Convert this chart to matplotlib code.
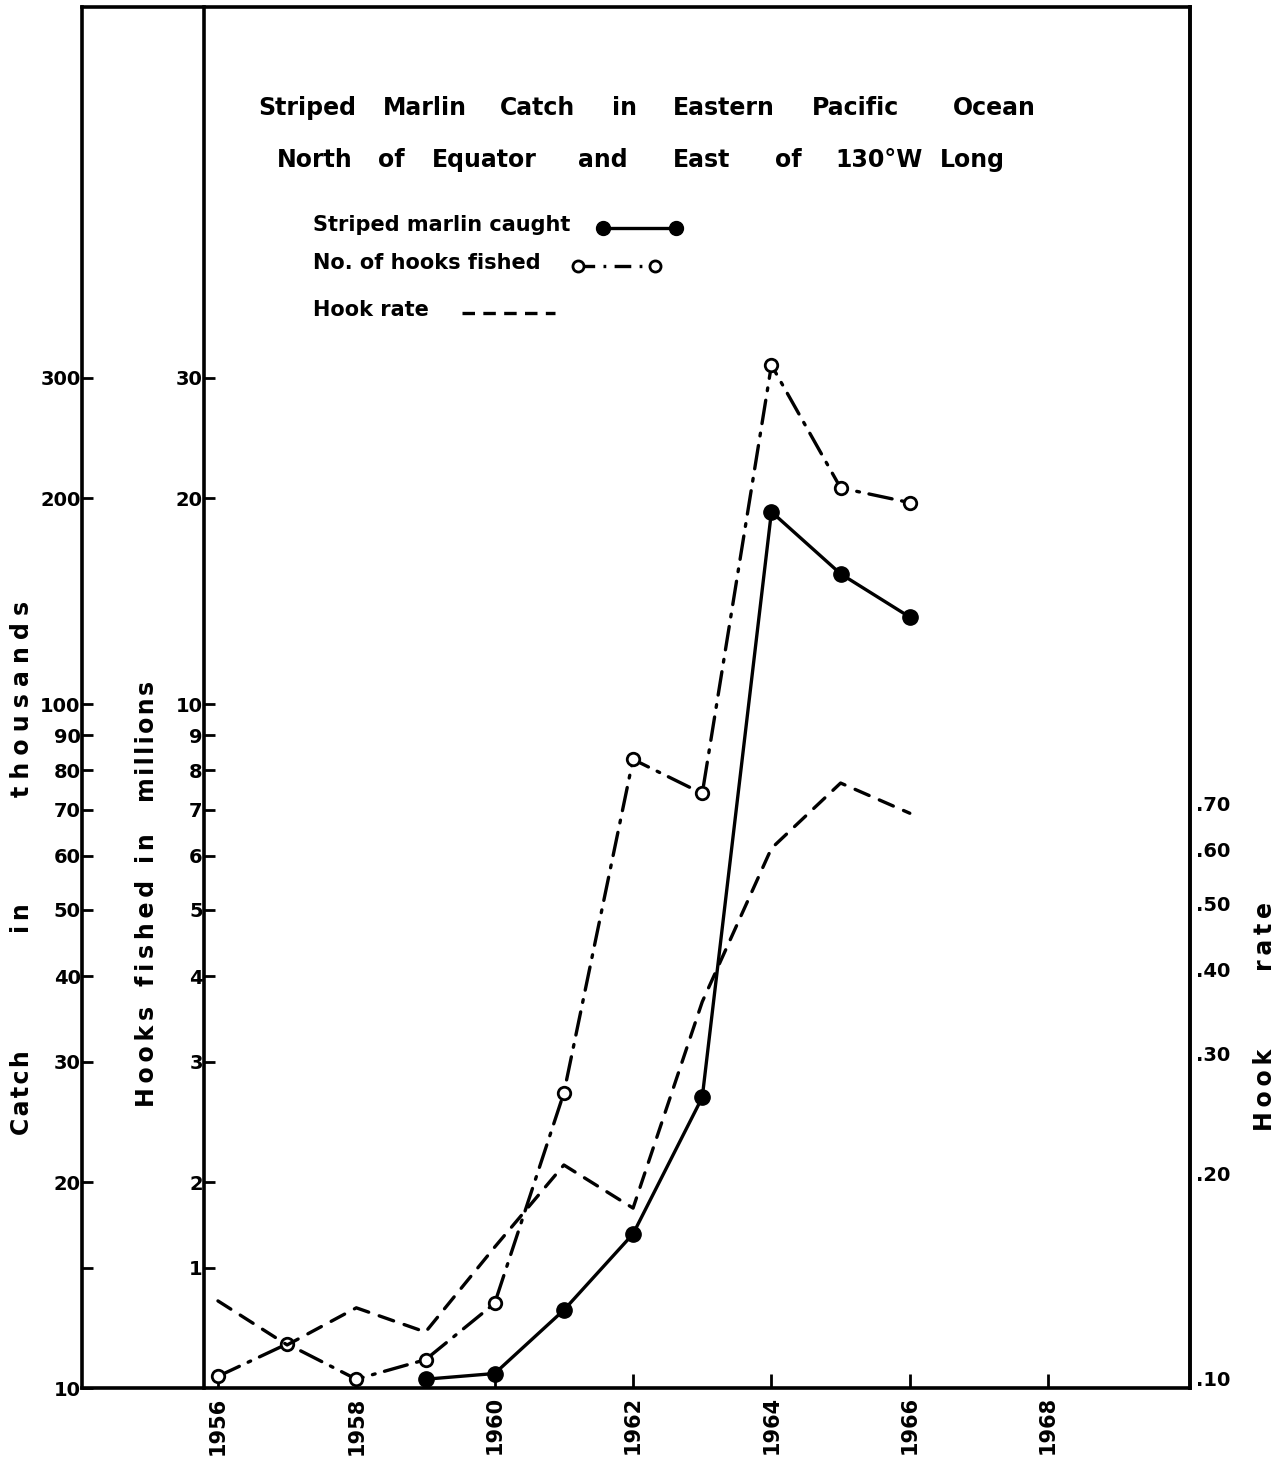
import matplotlib.pyplot as plt
from matplotlib.lines import Line2D

plt.rcParams['font.family'] = ['DejaVu Sans']
plt.rcParams['font.weight'] = 'bold'
plt.rcParams['lines.scale_dashes'] = False

# data
years = [1956, 1957, 1958, 1959, 1960, 1961, 1962, 1963, 1964, 1965, 1966]
hooks = [1.04, 1.16, 1.03, 1.10, 1.33, 2.70, 8.3, 7.4, 31.3, 20.7, 19.7]      # millions
hook_rate = [0.130, 0.112, 0.127, 0.117, 0.156, 0.206, 0.178, 0.358, 0.602, 0.751, 0.678]
catch_years = [1959, 1960, 1961, 1962, 1963, 1964, 1965, 1966]
catch = [10.3, 10.5, 13.0, 16.8, 26.6, 191, 155, 134]                         # thousands

catch_ticks = [10, 15, 20, 30, 40, 50, 60, 70, 80, 90, 100, 200, 300]
catch_labels = ['10', '', '20', '30', '40', '50', '60', '70', '80', '90', '100', '200', '300']
hook_ticks = [1.5, 2, 3, 4, 5, 6, 7, 8, 9, 10, 20, 30]
hook_labels = ['1', '2', '3', '4', '5', '6', '7', '8', '9', '10', '20', '30']
rate_ticks = [0.1, 0.2, 0.3, 0.4, 0.5, 0.6, 0.7]
rate_labels = ['.10', '.20', '.30', '.40', '.50', '.60', '.70']
year_ticks = [1956, 1958, 1960, 1962, 1964, 1966, 1968]

W, H = 1283, 1459
fig = plt.figure(figsize=(W / 100, H / 100), dpi=100)


def px(x, y):
    return x / W, 1 - y / H


def spaced(word, gap='\u2009'):
    return gap.join(word)


ax = fig.add_axes([82 / W, (H - 1388) / H, (1190 - 82) / W, (1388 - 7) / H])
ax.set_xlim(1954.035, 1970.05)
ax.set_yscale('log')
ax.set_ylim(10, 1045)
for s in ax.spines.values():
    s.set_linewidth(2.6)

# hooks axis (inner left line), shares x
ax2 = ax.twinx()
ax2.set_yscale('log')
ax2.set_ylim(1, 104.5)
ax2.yaxis.set_ticks_position('left')
ax2.spines['left'].set_position(('data', 1955.8))
ax2.spines['left'].set_linewidth(2.6)
for k in ['right', 'top', 'bottom']:
    ax2.spines[k].set_visible(False)

# hook rate axis (right)
ax3 = ax.twinx()
ax3.set_yscale('log')
ax3.set_ylim(0.0968, 10.4)
for k in ['left', 'top', 'bottom']:
    ax3.spines[k].set_visible(False)
ax3.spines['right'].set_linewidth(2.6)

ax.set_yticks(catch_ticks, catch_labels)
ax2.set_yticks(hook_ticks, hook_labels)
ax3.set_yticks(rate_ticks, rate_labels)
for a in (ax, ax2, ax3):
    a.yaxis.set_minor_locator(plt.NullLocator())
ax.tick_params(axis='y', direction='in', length=8, width=2, labelsize=14, pad=1)
ax2.tick_params(axis='y', direction='in', length=8, width=2, labelsize=14, pad=1)
ax3.tick_params(axis='y', length=0, labelsize=14, pad=4)

ax.set_xticks(year_ticks, [str(y) for y in year_ticks])
ax.tick_params(axis='x', direction='in', length=10, width=2, labelsize=15,
               labelrotation=90, pad=6)

# series
ax.plot(catch_years, catch, color='black', lw=2.4, marker='o', ms=11, zorder=5)
ax2.plot(years, hooks, color='black', lw=2.4, marker='o', ms=9, mfc='white',
         mew=2, dashes=(17, 7, 2, 7), dash_capstyle='round', zorder=5)
ax3.plot(years, hook_rate, color='black', lw=2.4, dashes=(11, 8),
         dash_capstyle='round', zorder=5)

# title
title1 = [('Striped', 258), ('Marlin', 383), ('Catch', 500), ('in', 612),
          ('Eastern', 673), ('Pacific', 812), ('Ocean', 953)]
title2 = [('North', 277), ('of', 378), ('Equator', 432), ('and', 578),
          ('East', 673), ('of', 775), ('130°W', 835), ('Long', 940)]
for row, yy in ((title1, 108), (title2, 160)):
    for w, xx in row:
        fig.text(*px(xx, yy), w, fontsize=17, ha='left', va='center')

# legend (text followed by a line sample)
leg = [('Striped marlin caught', 225, 603, 676,
        dict(color='black', lw=2.4, marker='o', ms=10)),
       ('No. of hooks fished', 263, 578, 655,
        dict(color='black', lw=2.4, marker='o', ms=8, mfc='white', mew=2,
             dashes=(12, 6, 2, 6))),
       ('Hook rate', 310, 462, 555,
        dict(color='black', lw=2.4, dashes=(9, 6)))]
for lab, yy, x0, x1, st in leg:
    fig.text(*px(313, yy), lab, fontsize=15, ha='left', va='center')
    (ax0, ay), (ax1, _) = px(x0, yy + 3), px(x1, yy + 3)
    fig.add_artist(Line2D([ax0, ax1], [ay, ay], transform=fig.transFigure, **st))

# axis titles, word by word, letter spaced like the lettering guide
for w, yy, g in (('Catch', 1093, '\u200a'), ('in', 918, '\u2009'),
                 ('thousands', 699, '\u2009\u200a')):
    fig.text(*px(22, yy), spaced(w, g), fontsize=17, rotation=90,
             ha='center', va='center')
for w, yy, g in (('Hooks', 1056, '\u2009'), ('fished', 933, '\u2009'),
                 ('in', 848, '\u2009'), ('millions', 741, '\u200a')):
    fig.text(*px(147, yy), spaced(w, g), fontsize=17, rotation=90,
             ha='center', va='center')
for w, yy in (('Hook', 1090), ('rate', 936)):
    fig.text(*px(1265, yy), spaced(w), fontsize=17, rotation=90,
             ha='center', va='center')

fig.savefig('out.png', dpi=100, facecolor='white')
